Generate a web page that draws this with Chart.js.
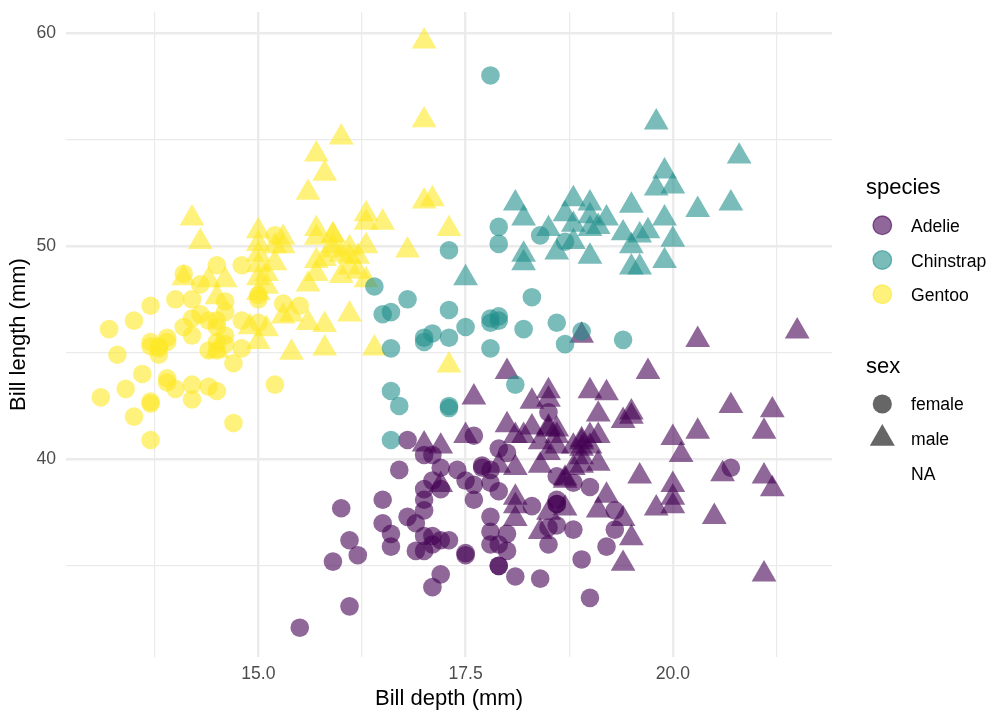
<!DOCTYPE html>
<html>
<head>
<meta charset="utf-8">
<script src="https://cdn.jsdelivr.net/npm/chart.js@4.4.1/dist/chart.umd.min.js"></script>
<style>
  html, body { margin: 0; padding: 0; background: #fff; }
  #wrap { position: relative; width: 1008px; height: 720px; font-family: "Liberation Sans", Arial, sans-serif; }
  #chart { position: absolute; left: 0; top: 0; }
  .lg { position: absolute; color: #000; white-space: nowrap; }
  .lg-title { font-size: 22px; line-height: 22px; }
  .lg-text { font-size: 17.6px; line-height: 18px; }
  #keys { position: absolute; left: 0; top: 0; }
</style>
</head>
<body>
<div id="wrap">
  <canvas id="chart" width="1008" height="720"></canvas>
  <svg id="keys" width="1008" height="720"></svg>
  <div class="lg lg-title" style="left:866px; top:176px;">species</div>
  <div class="lg lg-text" style="left:911px; top:217px;">Adelie</div>
  <div class="lg lg-text" style="left:911px; top:252px;">Chinstrap</div>
  <div class="lg lg-text" style="left:911px; top:286px;">Gentoo</div>
  <div class="lg lg-title" style="left:866px; top:355px;">sex</div>
  <div class="lg lg-text" style="left:911px; top:395px;">female</div>
  <div class="lg lg-text" style="left:911px; top:430px;">male</div>
  <div class="lg lg-text" style="left:911px; top:465px;">NA</div>
</div>
<script>
// palmer penguins: bill depth (x) vs bill length (y), sex as 'F' / 'M' / null (NA)
var adelieLength = [39.1,39.5,40.3,36.7,39.3,38.9,39.2,34.1,42.0,37.8,37.8,41.1,38.6,34.6,36.6,38.7,42.5,34.4,46.0,
  37.8,37.7,35.9,38.2,38.8,35.3,40.6,40.5,37.9,40.5,39.5,37.2,39.5,40.9,36.4,39.2,38.8,42.2,37.6,39.8,
  36.5,40.8,36.0,44.1,37.0,39.6,41.1,37.5,36.0,42.3,39.6,40.1,35.0,42.0,34.5,41.4,39.0,40.6,36.5,37.6,
  35.7,41.3,37.6,41.1,36.4,41.6,35.5,41.1,35.9,41.8,33.5,39.7,39.6,45.8,35.5,42.8,40.9,37.2,36.2,42.1,
  34.6,42.9,36.7,35.1,37.3,41.3,36.3,36.9,38.3,38.9,35.7,41.1,34.0,39.6,36.2,40.8,38.1,40.3,33.1,43.2,
  35.0,41.0,37.7,37.8,37.9,39.7,38.6,38.2,38.1,43.2,38.1,45.6,39.7,42.2,39.6,42.7,38.6,37.3,35.7,41.1,
  36.2,37.7,40.2,41.4,35.2,40.6,38.8,41.5,39.0,44.1,38.5,43.1,36.8,37.5,38.1,41.1,35.6,40.2,37.0,39.7,
  40.2,40.6,32.1,40.7,37.3,39.0,39.2,36.6,36.0,37.8,36.0,41.5];
var adelieDepth = [18.7,17.4,18.0,19.3,20.6,17.8,19.6,18.1,20.2,17.1,17.3,17.6,21.2,21.1,17.8,19.0,20.7,18.4,21.5,
  18.3,18.7,19.2,18.1,17.2,18.9,18.6,17.9,18.6,18.9,16.7,18.1,17.8,18.9,17.0,21.1,20.0,18.5,19.3,19.1,
  18.0,18.4,18.5,19.7,16.9,18.8,19.0,18.9,17.9,21.2,17.7,18.9,17.9,19.5,18.1,18.6,17.5,18.8,16.6,19.1,
  16.9,21.1,17.0,18.2,17.1,18.0,16.2,19.1,16.6,19.4,19.0,18.4,17.2,18.9,17.5,18.5,16.8,19.4,16.1,19.1,
  17.2,17.6,18.8,19.4,17.8,20.3,19.5,18.6,19.2,18.8,18.0,18.1,17.1,18.1,17.3,18.9,18.6,18.5,16.1,18.5,
  17.9,20.0,16.0,20.0,18.6,18.9,17.2,20.0,17.0,19.0,16.5,20.3,17.7,19.5,20.7,18.3,17.0,20.5,17.0,18.6,
  17.2,19.8,17.0,18.5,15.9,19.0,17.6,18.3,17.1,18.0,17.9,19.2,18.5,18.5,17.6,17.5,17.5,20.1,16.5,17.9,
  17.1,17.2,15.5,17.0,16.8,18.7,18.6,18.4,17.8,18.1,17.1,18.5];
var adelieSex = ['M','F','F','F','M','F','M',null,null,null,null,'F','M','M','F','F','M','F','M',
  'F','M','F','M','M','F','M','F','F','M','F','M','F','M','F','M','M','F','F','M',
  'F','M','F','M','F','M','M',null,'F','M','F','M','F','M','F','M','F','M','F','M',
  'F','M','F','M','F','M','F','M','F','M','F','M','F','M','F','M','F','M','F','M',
  'F','M','F','M','F','M','M','F','M','F','F','M','F','M','F','M','F','M','F','M',
  'F','M','F','M','F','M','F','M','F','M','F','M','F','M','F','M','F','M','F','M',
  'F','M','F','M','F','M','F','M','F','M','F','M','F','M','F','M','F','M','F','M',
  'F','M','F','M','F','M','F','M','F','M','F','M'];

var gentooLength = [46.1,50.0,48.7,50.0,47.6,46.5,45.4,46.7,43.3,46.8,40.9,49.0,45.5,48.4,45.8,49.3,42.0,49.2,46.2,48.7,
  50.2,45.1,46.5,46.3,42.9,46.1,44.5,47.8,48.2,50.0,47.3,42.8,45.1,59.6,49.1,48.4,42.6,44.4,44.0,48.7,
  42.7,49.6,45.3,49.6,50.5,43.6,45.5,50.5,44.9,45.2,46.6,48.5,45.1,50.1,46.5,45.0,43.8,45.5,43.2,50.4,
  45.3,46.2,45.7,54.3,45.8,49.8,46.2,49.5,43.5,50.7,47.7,46.4,48.2,46.5,46.4,48.6,47.5,51.1,45.2,45.2,
  49.1,52.5,47.4,50.0,44.9,50.8,43.4,51.3,47.5,52.1,47.5,52.2,45.5,49.5,44.5,50.8,49.4,46.9,48.4,51.1,
  48.5,55.9,47.2,49.1,47.3,46.8,41.7,53.4,43.3,48.1,50.5,49.8,43.5,51.5,46.2,55.1,44.5,48.8,47.2,46.8,
  50.4,45.2,49.9];
var gentooDepth = [13.2,16.3,14.1,15.2,14.5,13.5,14.6,15.3,13.4,15.4,13.7,16.1,13.7,14.6,14.6,15.7,13.5,15.2,14.5,15.1,
  14.3,14.5,14.5,15.8,13.1,15.1,14.3,15.0,14.3,15.3,15.3,14.2,14.5,17.0,14.8,16.3,13.7,17.3,13.6,15.7,
  13.7,16.0,13.7,15.0,15.9,13.9,13.9,15.9,13.3,15.8,14.2,14.1,14.4,15.0,14.4,15.4,13.9,15.0,14.5,15.3,
  13.8,14.9,13.9,15.7,14.2,16.8,14.4,16.2,14.2,15.0,15.0,15.6,15.6,14.8,15.0,16.0,14.2,16.3,13.8,16.4,
  14.5,15.6,14.6,15.9,13.8,17.3,14.4,14.2,14.0,17.0,15.0,17.1,14.5,16.1,14.7,15.7,15.8,14.6,14.4,16.5,
  15.0,17.0,15.5,15.0,13.8,16.1,14.7,15.8,14.0,15.1,15.2,15.9,15.2,16.3,14.1,16.0,15.7,16.2,13.7,14.3,
  15.7,14.8,16.1];
var gentooSex = ['F','M','F','M','M','F','F','M','F','M','F','M','F','M','F','M','F','M','F','M',
  'M','F','F','M','F','M',null,'M','F','M','F','F','M','M','F','M','F','M','F','M',
  'F','M','F','M','M','F','F','M','F','M','F','M','F','M','F','M','F','M','F','M',
  'F','M','F','M','F','M',null,'M','F','M','F','M','M','F','F','M','F','M','F','M',
  'F','M','F','M','F','M','F','M','F','M','F','M','F','M','F','M','M','F','M','M',
  'M','M','F','M',null,'M','F','M','F','M','F','M','F','M','F','M',null,'M','F','F',
  'M','F','M'];

var chinstrapLength = [46.5,50.0,51.3,45.4,52.7,45.2,46.1,51.3,46.0,51.3,46.6,51.7,47.0,52.0,45.9,50.5,50.3,58.0,46.4,49.2,
  42.4,48.5,43.2,50.6,46.7,52.0,50.5,49.5,46.4,52.8,40.9,54.2,42.5,51.0,49.7,47.5,47.6,52.0,46.9,53.5,
  49.0,46.2,50.9,45.5,50.9,50.8,50.1,49.0,51.5,49.8,48.1,51.4,45.7,50.7,42.5,52.2,45.2,49.3,50.2,45.6,
  51.9,46.8,45.7,55.8,43.5,49.6,50.8,50.2];
var chinstrapDepth = [17.9,19.5,19.2,18.7,19.8,17.8,18.2,18.2,18.9,19.9,17.8,20.3,17.3,18.1,17.1,19.6,20.0,17.8,18.6,18.2,
  17.3,17.5,16.6,19.4,17.9,19.0,18.4,19.0,17.8,20.0,16.6,20.8,16.7,18.8,18.6,16.8,18.3,20.7,16.6,19.9,
  19.5,17.5,19.1,17.0,17.9,18.5,17.9,19.6,18.7,17.3,16.4,19.0,17.3,19.7,17.3,18.8,16.6,19.9,18.8,19.4,
  19.5,16.5,17.0,19.8,18.1,18.2,19.0,18.7];
var chinstrapSex = ['F','M','M','F','M','F','F','M','F','M','F','M','F','M','F','M','M','F','F','M',
  'F','M','F','M','F','M','F','M','F','M','F','M','F','M','M','F','F','M','F','M',
  'M','F','M','F','F','M','F','M','M','F','F','M','F','M','F','M','F','M','M','F',
  'M','F','F','M','F','M','M','F'];

var xTicks = [13.75, 15, 16.25, 17.5, 18.75, 20, 21.25];
var xLabels = ['', '15.0', '', '17.5', '', '20.0', ''];
var yTicks = [35, 40, 45, 50, 55, 60];
var yLabels = ['', '40', '', '50', '', '60'];

var fontFamily = '"Liberation Sans", Arial, sans-serif';
var colors = {
  Adelie: 'rgba(68, 1, 84, 0.6)',
  Chinstrap: 'rgba(33, 144, 140, 0.6)',
  Gentoo: 'rgba(253, 231, 37, 0.6)'
};

function makeDataset(name, depth, length, sex, order) {
  var pts = [], styles = [], radii = [];
  for (var i = 0; i < depth.length; i++) {
    // NA sex has no shape in the original, so it is not drawn
    if (!sex[i]) continue;
    pts.push({x: depth[i], y: length[i]});
    styles.push(sex[i] === 'M' ? 'triangle' : 'circle');
    radii.push(sex[i] === 'M' ? 14.3 : 9.3);
  }
  return {
    label: name,
    data: pts,
    pointStyle: styles,
    pointRadius: radii,
    pointHoverRadius: radii,
    pointBackgroundColor: colors[name],
    pointBorderWidth: 0,
    showLine: false,
    order: order
  };
}

function gridWidth(majors) {
  return function (ctx) {
    if (!ctx.tick) return 1.2;
    return majors.indexOf(ctx.tick.value) >= 0 ? 2.4 : 1.2;
  };
}

var ctx = document.getElementById('chart').getContext('2d');
new Chart(ctx, {
  type: 'scatter',
  data: {
    datasets: [
      makeDataset('Adelie', adelieDepth, adelieLength, adelieSex, 3),
      makeDataset('Gentoo', gentooDepth, gentooLength, gentooSex, 2),
      makeDataset('Chinstrap', chinstrapDepth, chinstrapLength, chinstrapSex, 1)
    ]
  },
  options: {
    responsive: false,
    animation: false,
    events: [],
    layout: { autoPadding: false, padding: { top: 12, right: 176, bottom: 0, left: 0 } },
    plugins: { legend: { display: false }, tooltip: { enabled: false } },
    scales: {
      x: {
        type: 'linear',
        min: 12.68,
        max: 21.92,
        afterBuildTicks: function (axis) {
          axis.ticks = xTicks.map(function (v) { return {value: v}; });
        },
        afterFit: function (axis) {
          axis.height = 63;
          axis.paddingLeft = 0;
          axis.paddingRight = 0;
        },
        border: { display: false },
        grid: { color: '#EBEBEB', lineWidth: gridWidth([15, 17.5, 20]), drawTicks: false },
        ticks: {
          autoSkip: false,
          maxRotation: 0,
          padding: 7,
          color: '#4D4D4D',
          font: { family: fontFamily, size: 17.6 },
          callback: function (value) {
            var i = xTicks.indexOf(value);
            return i >= 0 ? xLabels[i] : '';
          }
        },
        title: {
          display: true,
          text: 'Bill depth (mm)',
          color: '#000',
          font: { family: fontFamily, size: 22 },
          padding: { top: 0, bottom: 8 }
        }
      },
      y: {
        type: 'linear',
        min: 30.725,
        max: 60.975,
        afterBuildTicks: function (axis) {
          axis.ticks = yTicks.map(function (v) { return {value: v}; });
        },
        afterFit: function (axis) {
          axis.width = 66;
          axis.paddingTop = 0;
          axis.paddingBottom = 0;
        },
        border: { display: false },
        grid: { color: '#EBEBEB', lineWidth: gridWidth([40, 50, 60]), drawTicks: false },
        ticks: {
          autoSkip: false,
          padding: 10,
          color: '#4D4D4D',
          font: { family: fontFamily, size: 17.6 },
          callback: function (value) {
            var i = yTicks.indexOf(value);
            return i >= 0 ? yLabels[i] : '';
          }
        },
        title: {
          display: true,
          text: 'Bill length (mm)',
          color: '#000',
          font: { family: fontFamily, size: 22 },
          padding: { top: 6, bottom: 0 }
        }
      }
    }
  }
});

// legend keys
var svgNS = 'http://www.w3.org/2000/svg';
var keys = document.getElementById('keys');
function addShape(tag, attrs) {
  var el = document.createElementNS(svgNS, tag);
  for (var k in attrs) el.setAttribute(k, attrs[k]);
  keys.appendChild(el);
}
var speciesKeys = [['Adelie', 225.3], ['Chinstrap', 260], ['Gentoo', 294.3]];
speciesKeys.forEach(function (s) {
  addShape('circle', {cx: 882.3, cy: s[1], r: 9.3, fill: colors[s[0]], stroke: colors[s[0]], 'stroke-width': 1.3});
});
addShape('circle', {cx: 882.3, cy: 404, r: 9.6, fill: '#666666'});
addShape('polygon', {points: '882.3,424 894.8,445.7 869.8,445.7', fill: '#666666'});
</script>
</body>
</html>
